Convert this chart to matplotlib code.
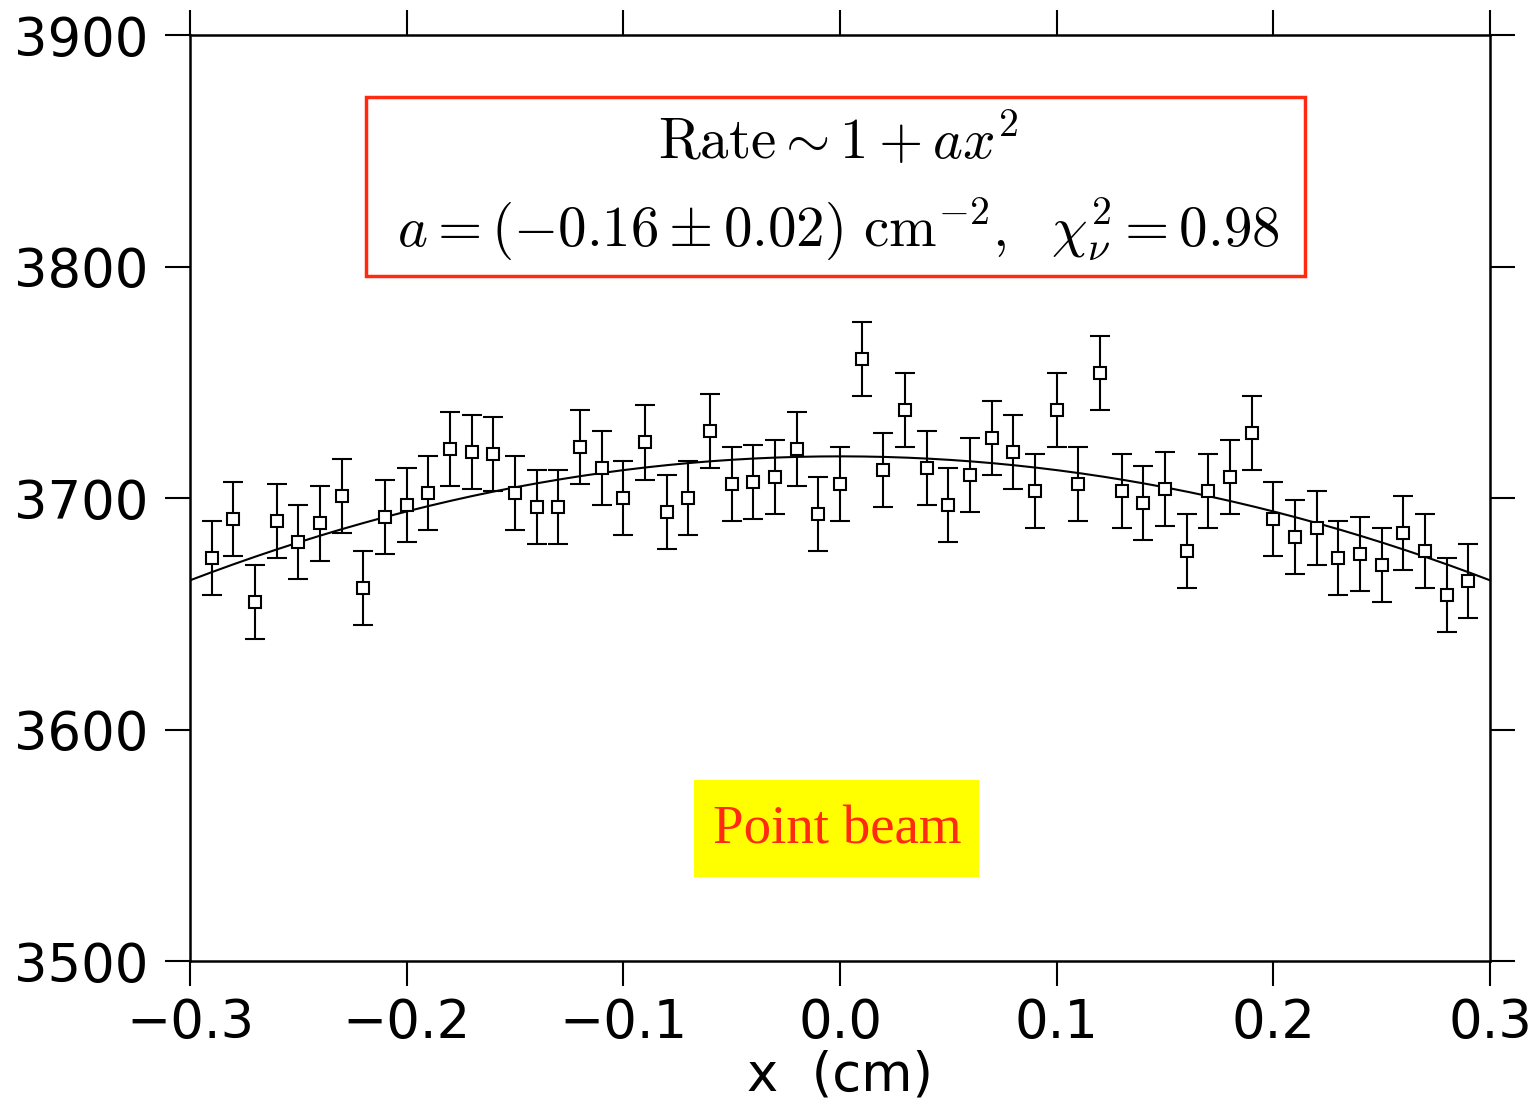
import numpy as np
import matplotlib
matplotlib.use('Agg')
import matplotlib.pyplot as plt
from matplotlib.patches import Rectangle

x_pos = [-0.29, -0.28, -0.27, -0.26, -0.25, -0.24, -0.23, -0.22, -0.21, -0.20,
         -0.19, -0.18, -0.17, -0.16, -0.15, -0.14, -0.13, -0.12, -0.11, -0.10,
         -0.09, -0.08, -0.07, -0.06, -0.05, -0.04, -0.03, -0.02, -0.01, 0.00,
         0.01, 0.02, 0.03, 0.04, 0.05, 0.06, 0.07, 0.08, 0.09, 0.10,
         0.11, 0.12, 0.13, 0.14, 0.15, 0.16, 0.17, 0.18, 0.19, 0.20,
         0.21, 0.22, 0.23, 0.24, 0.25, 0.26, 0.27, 0.28, 0.29]
rate = [3674, 3691, 3655, 3690, 3681, 3689, 3701, 3661, 3692, 3697,
        3702, 3721, 3720, 3719, 3702, 3696, 3696, 3722, 3713, 3700,
        3724, 3694, 3700, 3729, 3706, 3707, 3709, 3721, 3693, 3706,
        3760, 3712, 3738, 3713, 3697, 3710, 3726, 3720, 3703, 3738,
        3706, 3754, 3703, 3698, 3704, 3677, 3703, 3709, 3728, 3691,
        3683, 3687, 3674, 3676, 3671, 3685, 3677, 3658, 3664]
rate_err = [16] * len(rate)

# fit result: Rate = A (1 + a x^2)
fit_A = 3718
fit_a = -0.16

x_ticks = [-0.3, -0.2, -0.1, 0.0, 0.1, 0.2, 0.3]
y_ticks = [3500, 3600, 3700, 3800, 3900]

plt.rcParams['mathtext.fontset'] = 'cm'

fig = plt.figure(figsize=(15.34, 11.05), dpi=100)
ax = fig.add_axes([0.1239, 0.1303, 0.8474, 0.838])

xf = np.linspace(-0.3, 0.3, 300)
ax.plot(xf, fit_A * (1 + fit_a * xf ** 2), color='black', lw=1.5)

ax.errorbar(x_pos, rate, yerr=rate_err, fmt='s', ms=8.5, mfc='white',
            mec='black', mew=1.5, ecolor='black', elinewidth=1.5,
            capsize=7, capthick=1.5, zorder=3)

ax.set_xlim(-0.3, 0.3)
ax.set_ylim(3500, 3900)
ax.set_xticks(x_ticks)
ax.set_xticklabels(['\u22120.3', '\u22120.2', '\u22120.1', '0.0', '0.1', '0.2', '0.3'])
ax.set_yticks(y_ticks)
ax.tick_params(direction='out', length=18, width=1.5, labelsize=38,
               top=True, right=True)
ax.tick_params(axis='y', pad=12)
ax.tick_params(axis='x', pad=8)
for s in ax.spines.values():
    s.set_linewidth(1.8)
ax.set_xlabel('x  (cm)', fontsize=38, labelpad=0)

# fit box
ax.add_patch(Rectangle((0.1354, 0.7398), 0.7223, 0.1933, transform=ax.transAxes,
                       fill=False, edgecolor='#ff2a10', lw=2.5, zorder=4))
ax.text(0.499, 0.884, r'$\mathrm{Rate} \sim 1 + a x^2$', transform=ax.transAxes,
        ha='center', va='center', fontsize=41)
ax.text(0.499, 0.790, r'$a = (-0.16 \pm 0.02)\ \mathrm{cm}^{-2},\ \ \chi^2_\nu = 0.98$',
        transform=ax.transAxes, ha='center', va='center', fontsize=41)

# label box
ax.add_patch(Rectangle((0.3877, 0.0904), 0.2192, 0.1047, transform=ax.transAxes,
                       facecolor='#ffff00', edgecolor='none', zorder=4))
ax.text(0.4977, 0.1415, 'Point beam', transform=ax.transAxes, ha='center',
        va='center', fontsize=39.5, color='#ff2a10', family='Liberation Serif',
        zorder=5)

plt.savefig('out.png', dpi=100)
